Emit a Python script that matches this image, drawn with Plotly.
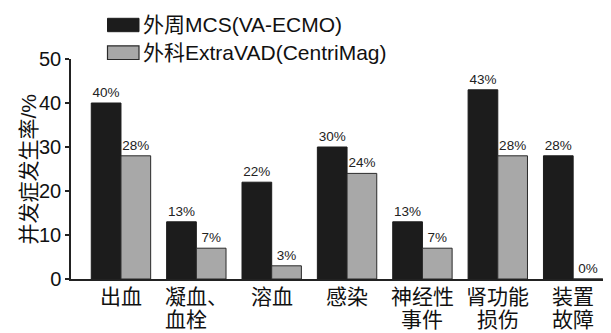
import plotly.graph_objects as go

# ---- data ----
categories = ["出血", "凝血、血栓", "溶血", "感染", "神经性事件", "肾功能损伤", "装置故障"]
cat_line1 = ["出血", "凝血、", "溶血", "感染", "神经性", "肾功能", "装置"]
cat_line2 = ["", "血栓", "", "", "事件", "损伤", "故障"]
series_names = ["外周MCS(VA-ECMO)", "外科ExtraVAD(CentriMag)"]
vals_ecmo = [40, 13, 22, 30, 13, 43, 28]
vals_vad = [28, 7, 3, 24, 7, 28, 0]
y_ticks = [0, 10, 20, 30, 40, 50]
y_title = "并发症发生率/%"

FONT = "Liberation Sans, Arial, Noto Sans CJK SC, sans-serif"
BLACK = "#1c1c1c"
GREY = "#a8a8a8"
EDGE = "#2a2a2a"

W, H = 611, 333
L, R, T, B = 71, 8, 59, 54
pw, ph = W - L - R, H - T - B

def px_x(p):
    return (p - L) / pw

def px_y(p):
    return (H - B - p) / ph

xs = list(range(len(categories)))

fig = go.Figure()
fig.add_trace(go.Bar(
    x=xs, y=vals_ecmo, name=series_names[0],
    marker=dict(color=BLACK, line=dict(color=BLACK, width=1)),
    text=[f"{v}%" for v in vals_ecmo], textposition="outside",
    textfont=dict(size=13.5, color="#222", family=FONT),
    constraintext="none", cliponaxis=False, showlegend=False,
))
fig.add_trace(go.Bar(
    x=xs, y=vals_vad, name=series_names[1],
    marker=dict(color=GREY, line=dict(color=EDGE, width=1)),
    text=[f"{v}%" for v in vals_vad], textposition="outside",
    textfont=dict(size=13.5, color="#222", family=FONT),
    constraintext="none", cliponaxis=False, showlegend=False,
))

annotations = []
# category labels (two lines)
for i, (a, b) in enumerate(zip(cat_line1, cat_line2)):
    annotations.append(dict(x=i, y=0, xref="x", yref="paper", text=a, showarrow=False,
                            xanchor="center", yanchor="middle", yshift=-17.5,
                            font=dict(size=21, color="#111", family=FONT)))
    if b:
        shift = -10 if a.endswith("、") else 0
        annotations.append(dict(x=i, y=0, xref="x", yref="paper", text=b, showarrow=False,
                                xanchor="center", yanchor="middle", yshift=-40, xshift=shift,
                                font=dict(size=21, color="#111", family=FONT)))
# y title
annotations.append(dict(x=px_x(27.5), y=0.5, xref="paper", yref="paper", text=y_title,
                        textangle=-90, showarrow=False, xanchor="center", yanchor="middle",
                        font=dict(size=21, color="#111", family=FONT)))
# legend texts
leg_y = [24.7, 52.5]
for name, yy in zip(series_names, leg_y):
    annotations.append(dict(x=px_x(141), y=px_y(yy), xref="paper", yref="paper", text=name,
                            showarrow=False, xanchor="left", yanchor="middle",
                            font=dict(size=21, color="#111", family=FONT)))

shapes = [
    dict(type="rect", xref="paper", yref="paper",
         x0=px_x(107.5), x1=px_x(139), y0=px_y(31.7), y1=px_y(18.3),
         fillcolor=BLACK, line=dict(color=BLACK, width=1)),
    dict(type="rect", xref="paper", yref="paper",
         x0=px_x(107.5), x1=px_x(139), y0=px_y(59.5), y1=px_y(45.8),
         fillcolor=GREY, line=dict(color=EDGE, width=1.2)),
]

fig.update_layout(
    width=W, height=H,
    margin=dict(l=L, r=R, t=T, b=B, pad=0),
    paper_bgcolor="white", plot_bgcolor="white",
    barmode="group", bargap=0.212, bargroupgap=0,
    font=dict(family=FONT, color="#111"),
    annotations=annotations, shapes=shapes,
    showlegend=False,
)
fig.update_xaxes(range=[-0.663, 6.396], showticklabels=False, ticks="",
                 showline=True, linecolor="#222", linewidth=1.5,
                 showgrid=False, zeroline=False, fixedrange=True)
fig.update_yaxes(range=[0, 50], tickvals=y_ticks, ticks="outside", ticklen=4,
                 tickwidth=1.5, tickcolor="#222",
                 showline=True, linecolor="#222", linewidth=1.5,
                 tickfont=dict(size=20, color="#111", family=FONT),
                 showgrid=False, zeroline=False, fixedrange=True)

fig.write_html("out.html", config={"displayModeBar": False})
